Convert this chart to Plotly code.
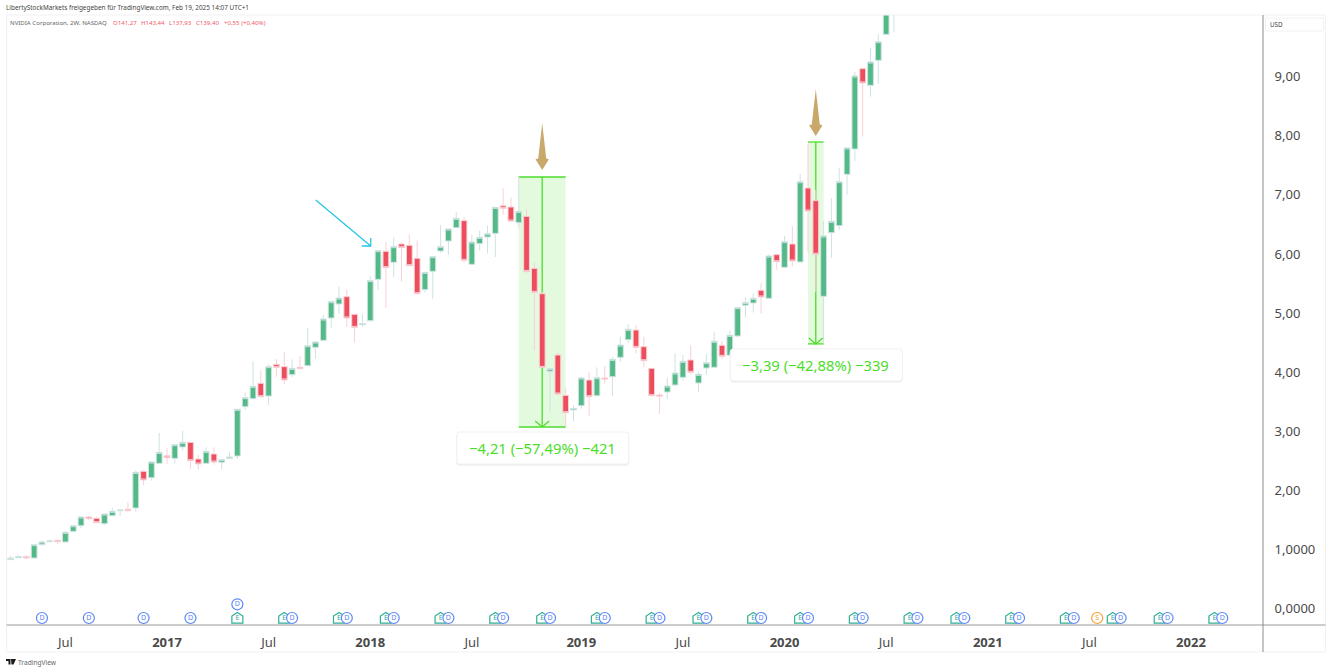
import pandas as pd
import plotly.graph_objects as go

first_bar = "2016-03-28"
bar_days = 14
bars_on_axis = 161

opens = [.83,.862,.879,.856,1.082,1.133,1.155,1.127,1.307,1.403,1.55,1.527,1.437,1.572,1.657,1.68,1.702,2.322,2.215,2.458,
 2.587,2.542,2.734,2.813,2.531,2.458,2.616,2.475,2.542,2.582,3.417,3.552,3.812,3.597,4.133,4.094,3.958,4.082,4.11,4.421,
 4.539,4.917,5.154,5.278,4.979,4.804,4.872,5.571,6.045,5.859,6.169,6.147,5.927,5.396,5.707,6.051,6.22,6.445,6.564,5.825,
 6.175,6.287,6.349,6.817,6.795,6.53,6.637,5.757,5.328,4.014,4.291,3.608,3.36,3.433,3.868,3.603,3.902,3.924,4.251,4.55,
 4.714,4.432,4.065,3.614,3.665,3.784,3.913,4.207,3.818,4.071,4.083,4.455,4.286,4.613,5.132,5.171,5.386,5.25,5.989,5.775,
 6.169,5.865,7.117,6.903,5.284,6.361,6.48,7.348,7.777,9.136,8.854,9.277,9.717,10.6]
highs = [.884,.901,.901,1.082,1.155,1.172,1.166,1.318,1.414,1.561,1.567,1.55,1.60,1.713,1.668,1.798,2.339,2.345,2.492,2.971,
 2.712,2.785,3.005,2.819,2.604,2.729,2.729,2.531,2.644,3.38,3.654,4.19,4.02,4.133,4.223,4.342,4.218,4.274,4.753,4.528,
 4.968,5.21,5.447,5.402,4.985,4.979,5.633,6.056,6.203,6.282,6.192,6.333,6.226,5.69,5.967,6.49,6.423,6.71,6.62,6.327,
 6.395,6.485,6.789,7.111,6.958,7.31,6.755,5.853,5.362,4.07,4.33,3.727,3.445,3.924,4.003,4.082,4.105,4.262,4.601,4.81,
 4.798,4.601,4.07,3.642,3.908,4.32,4.291,4.46,4.009,4.308,4.686,4.523,4.703,5.109,5.267,5.335,5.504,5.995,6.012,6.305,
 6.474,7.354,7.873,7.083,6.559,6.942,7.455,7.794,9.08,9.159,9.486,9.723,10.5,11.6]
lows = [.816,.856,.839,.85,1.07,1.121,1.093,1.121,1.30,1.358,1.493,1.448,1.414,1.567,1.567,1.646,1.64,2.091,2.165,2.446,
 2.452,2.452,2.672,2.368,2.351,2.452,2.435,2.362,2.531,2.537,3.36,3.541,3.569,3.445,3.924,3.80,3.913,4.048,4.105,4.229,
 4.533,4.753,4.985,4.765,4.50,4.77,4.855,5.391,5.086,5.611,5.532,5.802,5.312,5.346,5.233,6.02,5.983,6.445,5.853,5.814,
 6.056,6.011,5.949,6.665,6.547,6.445,5.672,4.375,4.082,3.315,3.603,3.09,3.174,3.383,3.259,3.586,3.811,3.603,4.178,4.5,
 4.319,4.082,3.603,3.292,3.547,3.772,3.857,3.959,3.671,3.959,4.083,4.218,4.28,4.59,4.929,5.008,4.991,5.25,5.73,5.775,
 5.786,5.865,6.023,5.363,4.489,5.938,6.406,7.004,7.574,7.986,8.662,8.877,9.717,9.76]
closes = [.856,.879,.856,1.082,1.127,1.144,1.133,1.29,1.403,1.55,1.522,1.454,1.60,1.646,1.668,1.657,2.305,2.176,2.48,2.644,
 2.554,2.774,2.813,2.503,2.447,2.661,2.48,2.52,2.565,3.372,3.569,3.761,3.586,4.094,4.082,3.868,4.065,4.06,4.449,4.511,
 4.9,5.193,5.255,4.917,4.759,4.821,5.549,6.056,5.769,6.124,6.107,5.802,5.329,5.69,5.955,6.124,6.423,6.603,5.893,6.203,
 6.282,6.344,6.789,6.772,6.558,6.722,5.706,5.351,4.082,4.06,3.631,3.315,3.388,3.902,3.586,3.907,3.885,4.217,4.46,4.725,
 4.42,4.195,3.603,3.597,3.767,3.987,4.184,3.998,3.964,4.162,4.523,4.269,4.624,5.092,5.177,5.25,5.273,5.966,5.87,6.209,
 5.882,7.224,6.728,5.995,6.305,6.553,7.224,7.794,9.012,8.894,9.249,9.593,10.5,11.5]

tick_bars = [7,20,33,46,59,73,86,99,112,125,138,151]
tick_labels = ["Jul","<b>2017</b>","Jul","<b>2018</b>","Jul","<b>2019</b>","Jul","<b>2020</b>","Jul","<b>2021</b>","Jul","<b>2022</b>"]
price_ticks = [0,1,2,3,4,5,6,7,8,9]
price_labels = ["0,0000","1,0000","2,00","3,00","4,00","5,00","6,00","7,00","8,00","9,00"]

earnings_bars = [29,35,42,48,55,62,68,75,82,88,95,101,108,115,121,128,135,141,147,154]
dividend_bars = [4,10,17,23,36,43,49,56,63,69,76,83,89,96,102,109,116,122,129,136,142,148,155]
dividend_upper_bars = [29]
split_bars = [139]

W, H = 1332, 672
L, R, T, B = 7, 1263.5, 15, 625
def px(x): return (x - L) / (R - L)
def py(y): return (B - y) / (B - T)

dates = pd.date_range(first_bar, periods=bars_on_axis, freq=f"{bar_days}D")
def d(i): return dates[i].strftime("%Y-%m-%d")
x_left = dates[0] - pd.Timedelta(days=6.6)
x_right = dates[0] + pd.Timedelta(days=2243)

GREEN, RED = "#53B987", "#EC4E5E"
EVENT_Y, EVENT_UPPER_Y = -0.159, 0.073
E_COL, D_COL, S_COL = "#2FAE96", "#5B86F7", "#F9A12E"

fig = go.Figure()
fig.add_trace(go.Candlestick(
    x=dates[:len(opens)], open=opens, high=highs, low=lows, close=closes,
    increasing=dict(fillcolor=GREEN, line=dict(color="#CFE3E2", width=1)),
    decreasing=dict(fillcolor=RED, line=dict(color="#F9D0D5", width=1)),
    hoverinfo="skip", showlegend=False))

def events(bars, y, label, color, symbol, size):
    fig.add_trace(go.Scatter(
        x=[dates[i] for i in bars], y=[y]*len(bars), mode="markers+text" if symbol else "text",
        text=[label]*len(bars), textposition="middle center",
        textfont=dict(size=7, color=color, family="Noto Sans"),
        marker=dict(symbol=symbol or "circle", size=size, color="white", line=dict(color=color, width=1.2)),
        hoverinfo="skip", showlegend=False, cliponaxis=False))
events(earnings_bars, EVENT_Y, "E", E_COL, None, 1)
events(dividend_bars, EVENT_Y, "D", D_COL, "circle", 11)
events(dividend_upper_bars, EVENT_UPPER_Y, "D", D_COL, "circle", 11)
events(split_bars, EVENT_Y, "S", S_COL, "circle", 11)

shapes = []
for i in earnings_bars:
    shapes.append(dict(type="path", xref="x", yref="y", xsizemode="pixel", ysizemode="pixel",
                       xanchor=d(i), yanchor=EVENT_Y, path="M -5.5 -5.2 L 5.5 -5.2 L 5.5 2 L 0 5.5 L -5.5 2 Z",
                       fillcolor="white", line=dict(color=E_COL, width=1.2), layer="below"))

MEAS = "#4CDD2A"
def measure(i0, i1, mid, top, bottom, label):
    shapes.append(dict(type="rect", xref="x", yref="y", x0=d(i0), x1=d(i1), y0=bottom, y1=top,
                       fillcolor="rgba(76,221,42,0.15)", line_width=0, layer="below"))
    for y in (top, bottom):
        shapes.append(dict(type="line", xref="x", yref="y", x0=d(i0), x1=d(i1), y0=y, y1=y,
                           line=dict(color=MEAS, width=1.3), layer="below"))
    shapes.append(dict(type="line", xref="x", yref="y", x0=d(mid), x1=d(mid), y0=bottom, y1=top,
                       line=dict(color=MEAS, width=1.3), layer="below"))
    shapes.append(dict(type="path", xref="x", yref="y", xsizemode="pixel", ysizemode="pixel",
                       xanchor=d(mid), yanchor=bottom, path="M -7 6 L 0 0 L 7 6",
                       line=dict(color=MEAS, width=1.3), layer="below"))
    for off, fill, line in ((1.2, "#EFEFEF", "#EFEFEF"), (0, "white", "#F1F1F1")):
        x0, x1, y0, y1 = -85.5, 86.5, -5 - off, -37 - off
        r = 3
        path = (f"M {x0+r} {y0} L {x1-r} {y0} Q {x1} {y0} {x1} {y0-r} L {x1} {y1+r} Q {x1} {y1} {x1-r} {y1} "
                f"L {x0+r} {y1} Q {x0} {y1} {x0} {y1+r} L {x0} {y0-r} Q {x0} {y0} {x0+r} {y0} Z")
        shapes.append(dict(type="path", xref="x", yref="y", xsizemode="pixel", ysizemode="pixel",
                           xanchor=d(mid), yanchor=bottom, path=path, fillcolor=fill,
                           line=dict(color=line, width=1), layer="above"))
    return dict(x=d(mid), y=bottom, xref="x", yref="y", yshift=-21, xanchor="center", yanchor="middle",
                text=label, showarrow=False, font=dict(family="Noto Sans", size=14.8, color=MEAS))

annots = [measure(65, 71, 68, 7.303, 3.073, "−4,21 (−57,49%) −421"),
          measure(102, 104, 103, 7.895, 4.479, "−3,39 (−42,88%) −339")]

GOLD = "#C9A96B"
gold_path = "M 0 0 L -6.7 10.7 L -4 11.5 L 0 47 L 4 11.5 L 6.7 10.7 Z"
for i, tip in ((68, 7.421), (103, 7.997)):
    shapes.append(dict(type="path", xref="x", yref="y", xsizemode="pixel", ysizemode="pixel",
                       xanchor=d(i), yanchor=tip, path=gold_path, fillcolor=GOLD, line_width=0))
shapes.append(dict(type="path", xref="x", yref="y", xsizemode="pixel", ysizemode="pixel",
                   xanchor=d(46), yanchor=6.135, path="M -54.5 46 L 0.5 0 M 0.5 8 L 0.5 0 L -8.5 0",
                   line=dict(color="#27C6E2", width=1.3)))

def pline(x0, y0, x1, y1, color, width=1):
    shapes.append(dict(type="line", xref="paper", yref="paper", x0=px(x0), x1=px(x1), y0=py(y0), y1=py(y1),
                       line=dict(color=color, width=width), layer="above"))
pline(6.5, 15, 1326, 15, "#F1F1F1")
pline(6.5, 15, 6.5, 652, "#F1F1F1")
pline(1326, 15, 1326, 652, "#F1F1F1")
pline(6.5, 652, 1326, 652, "#F1F1F1")
pline(6.5, 625, 1326, 625, "#9A9A9A", 1)
pline(1263.5, 15, 1263.5, 652, "#8C8C8C", 1)
shapes.append(dict(type="rect", xref="paper", yref="paper", x0=px(1266), x1=px(1324), y0=py(31), y1=py(18),
                   line=dict(color="#F2F2F2", width=1), fillcolor="white"))
shapes.append(dict(type="path", xref="paper", yref="paper", fillcolor="#1A1A1A", line_width=0,
                   path=(f"M {px(6)} {py(659)} L {px(10.5)} {py(659)} L {px(10.5)} {py(664.5)} L {px(8.5)} {py(664.5)} L {px(8.5)} {py(661)} L {px(6)} {py(661)} Z "
                         f"M {px(11)} {py(659)} L {px(16)} {py(659)} L {px(13.5)} {py(664.5)} L {px(11.5)} {py(664.5)} Z")))

def ptext(x, y, text, size, color):
    annots.append(dict(x=px(x - 2), y=py(y), xref="paper", yref="paper", xanchor="left", yanchor="middle",
                       text=text, showarrow=False, align="left", font=dict(family="Noto Sans", size=size, color=color)))
ptext(6, 8, "LibertyStockMarkets freigegeben für TradingView.com, Feb 19, 2025 14:07 UTC+1", 6.4, "#444444")
ptext(10, 23, "NVIDIA Corporation, 2W, NASDAQ", 6.1, "#666666")
ptext(112.7, 23, "O141,27", 6.1, "#F0596A")
ptext(141, 23, "H143,44", 6.1, "#F0596A")
ptext(169, 23, "L137,93", 6.1, "#F0596A")
ptext(196, 23, "C139,40", 6.1, "#F0596A")
ptext(224, 23, "+0,55 (+0,40%)", 6.1, "#F0596A")
ptext(1270.5, 24.5, "USD", 6.3, "#444444")
ptext(18.5, 662.5, "TradingView", 6.6, "#666666")

fig.update_layout(
    width=W, height=H, margin=dict(l=L, r=W-R, t=T, b=H-B, pad=0, autoexpand=False),
    paper_bgcolor="white", plot_bgcolor="white", showlegend=False, hovermode=False, boxgap=0.08, boxgroupgap=0.2,
    shapes=shapes, annotations=annots,
    xaxis=dict(type="date", range=[x_left, x_right], rangeslider=dict(visible=False),
               tickmode="array", tickvals=[dates[i] for i in tick_bars], ticktext=tick_labels,
               showgrid=False, zeroline=False, showline=False, ticks="outside", ticklen=5, tickcolor="rgba(0,0,0,0)",
               tickangle=0, tickfont=dict(family="Noto Sans", size=13, color="#4A4A4A")),
    yaxis=dict(side="right", range=[-0.2775, 10.044], tickmode="array", tickvals=price_ticks, ticktext=price_labels,
               showgrid=False, zeroline=False, showline=False, ticks="outside", ticklen=8, tickcolor="rgba(0,0,0,0)",
               tickfont=dict(family="Noto Sans", size=13, color="#4A4A4A")),
)
fig.write_html("out.html", config=dict(displayModeBar=False),
               post_script="document.body.style.margin='0';document.body.style.overflow='hidden';")
